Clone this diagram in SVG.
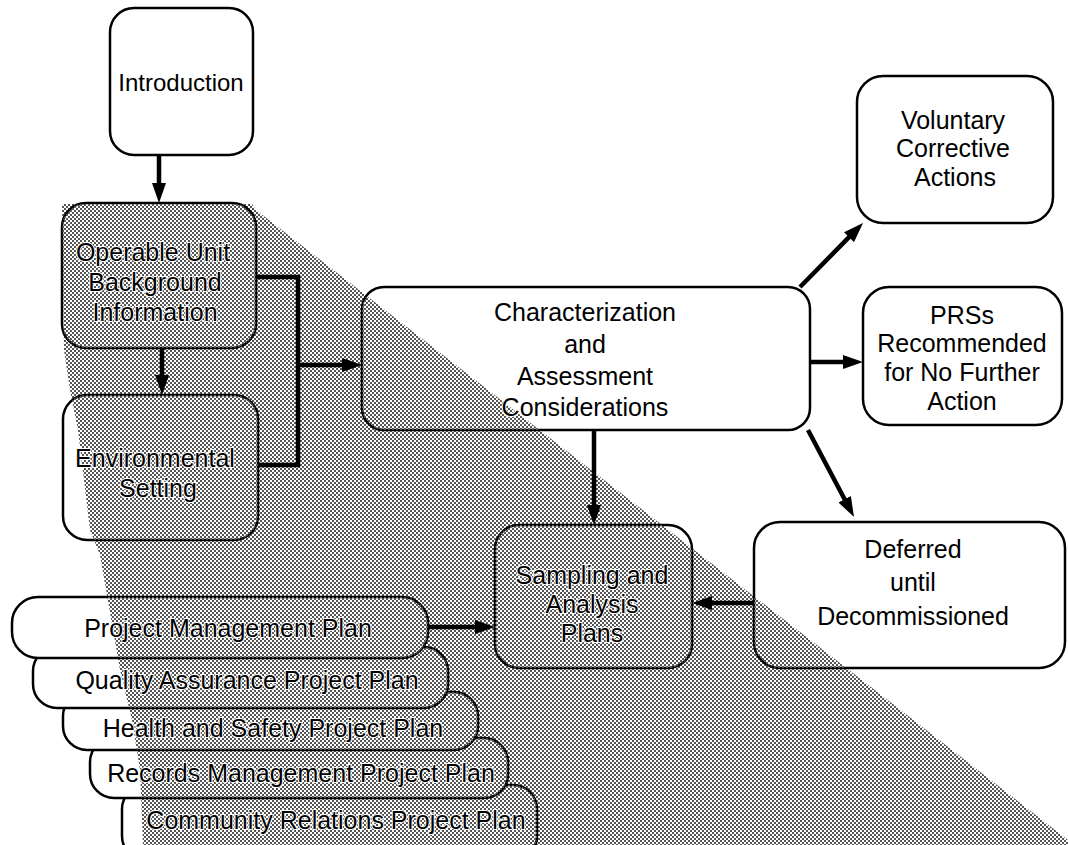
<svg xmlns="http://www.w3.org/2000/svg" width="1068" height="845" viewBox="0 0 1068 845">
  <style>
    .box { fill: #fff; stroke: #000; stroke-width: 2.5; }
    .dots { fill: url(#dither); stroke: none; }
    .lbl { font-family: "Liberation Sans", Arial, Helvetica, sans-serif; font-size: 25px; fill: #000; text-anchor: middle; stroke: #fff; stroke-width: 2; paint-order: stroke; }
    .wire { fill: none; stroke: #000; stroke-width: 4.5; }
  </style>
  <defs>
    <!-- halftone dot screen used for the shaded wedge -->
    <pattern id="dither" patternUnits="userSpaceOnUse" width="4" height="4">
      <rect x="0" y="0" width="2" height="2" fill="#555"/>
      <rect x="2" y="2" width="2" height="2" fill="#555"/>
    </pattern>
    <clipPath id="wedgeClip">
      <polygon points="62,204 252,204 256,210 1068,840 1068,845 143,845 140,770 132,720 120,670 100,555 90,530 78,430 70,390 64,350"/>
    </clipPath>
    <marker id="head" viewBox="0 0 20 14" refX="5" refY="7" markerUnits="userSpaceOnUse" markerWidth="20" markerHeight="14" orient="auto">
      <path d="M0,0 L20,7 L0,14 Z" fill="#000"/>
    </marker>
  </defs>

  <rect x="0" y="0" width="1068" height="845" fill="#fff"/>

  <!-- shaded wedge behind the lower-left part of the chart -->
  <g id="wedge">
    <polygon class="dots" points="62,204 252,204 256,210 1068,840 1068,845 143,845 140,770 132,720 120,670 100,555 90,530 78,430 70,390 64,350"/>
  </g>

  <!-- stacked plan documents, bottom of stack first -->
  <g id="community-relations-plan">
    <rect class="box" x="122" y="785" width="415" height="75" rx="24"/>
    <rect class="dots" x="122" y="785" width="415" height="75" rx="24" clip-path="url(#wedgeClip)"/>
    <text class="lbl" x="336" y="829">Community Relations Project Plan</text>
  </g>
  <g id="records-management-plan">
    <rect class="box" x="90" y="738" width="418" height="60" rx="24"/>
    <rect class="dots" x="90" y="738" width="418" height="60" rx="24" clip-path="url(#wedgeClip)"/>
    <text class="lbl" x="301" y="782">Records Management Project Plan</text>
  </g>
  <g id="health-safety-plan">
    <rect class="box" x="63" y="692" width="415" height="58" rx="24"/>
    <rect class="dots" x="63" y="692" width="415" height="58" rx="24" clip-path="url(#wedgeClip)"/>
    <text class="lbl" x="273" y="737">Health and Safety Project Plan</text>
  </g>
  <g id="quality-assurance-plan">
    <rect class="box" x="33" y="647" width="415" height="61" rx="24"/>
    <rect class="dots" x="33" y="647" width="415" height="61" rx="24" clip-path="url(#wedgeClip)"/>
    <text class="lbl" x="247" y="689">Quality Assurance Project Plan</text>
  </g>
  <g id="project-management-plan">
    <rect class="box" x="12" y="597" width="416" height="61" rx="26"/>
    <rect class="dots" x="12" y="597" width="416" height="61" rx="26" clip-path="url(#wedgeClip)"/>
    <text class="lbl" x="228" y="637">Project Management Plan</text>
  </g>

  <g id="introduction">
    <rect class="box" x="110" y="8" width="143" height="147" rx="24"/>
    <text class="lbl" x="181" y="91" style="font-size:24px">Introduction</text>
  </g>

  <g id="operable-unit-background">
    <rect class="box" x="62" y="203" width="194" height="145" rx="24"/>
    <rect class="dots" x="62" y="203" width="194" height="145" rx="24" clip-path="url(#wedgeClip)"/>
    <text class="lbl" x="153" y="261">Operable Unit</text>
    <text class="lbl" x="155" y="291">Background</text>
    <text class="lbl" x="155" y="321">Information</text>
  </g>

  <g id="environmental-setting">
    <rect class="box" x="63" y="395" width="195" height="145" rx="24"/>
    <rect class="dots" x="63" y="395" width="195" height="145" rx="24" clip-path="url(#wedgeClip)"/>
    <text class="lbl" x="155" y="467">Environmental</text>
    <text class="lbl" x="158" y="497">Setting</text>
  </g>

  <g id="characterization-assessment">
    <rect class="box" x="362" y="287" width="448" height="143" rx="22"/>
    <rect class="dots" x="362" y="287" width="448" height="143" rx="22" clip-path="url(#wedgeClip)"/>
    <text class="lbl" x="585" y="321">Characterization</text>
    <text class="lbl" x="585" y="353">and</text>
    <text class="lbl" x="585" y="385">Assessment</text>
    <text class="lbl" x="585" y="416">Considerations</text>
  </g>

  <g id="sampling-analysis-plans">
    <rect class="box" x="495" y="525" width="197" height="143" rx="24"/>
    <rect class="dots" x="495" y="525" width="197" height="143" rx="24" clip-path="url(#wedgeClip)"/>
    <text class="lbl" x="592" y="584">Sampling and</text>
    <text class="lbl" x="592" y="613">Analysis</text>
    <text class="lbl" x="592" y="642">Plans</text>
  </g>

  <g id="voluntary-corrective-actions">
    <rect class="box" x="857" y="76" width="196" height="147" rx="26"/>
    <text class="lbl" x="953" y="129">Voluntary</text>
    <text class="lbl" x="953" y="157">Corrective</text>
    <text class="lbl" x="955" y="186">Actions</text>
  </g>

  <g id="prss-no-further-action">
    <rect class="box" x="863" y="287" width="199" height="138" rx="26"/>
    <text class="lbl" x="962" y="324">PRSs</text>
    <text class="lbl" x="962" y="352">Recommended</text>
    <text class="lbl" x="962" y="381">for No Further</text>
    <text class="lbl" x="962" y="410">Action</text>
  </g>

  <g id="deferred-until-decommissioned">
    <rect class="box" x="754" y="522" width="311" height="146" rx="26"/>
    <rect class="dots" x="754" y="522" width="311" height="146" rx="26" clip-path="url(#wedgeClip)"/>
    <text class="lbl" x="913" y="558">Deferred</text>
    <text class="lbl" x="913" y="591">until</text>
    <text class="lbl" x="913" y="625">Decommissioned</text>
  </g>

  <!-- connectors -->
  <g id="connectors">
    <line class="wire" x1="159" y1="155" x2="159" y2="188" marker-end="url(#head)"/>
    <line class="wire" x1="162" y1="348" x2="162" y2="380" marker-end="url(#head)"/>
    <polyline class="wire" points="256,277 298,277 298,465 258,465"/>
    <line class="wire" x1="298" y1="365" x2="347" y2="365" marker-end="url(#head)"/>
    <line class="wire" x1="800" y1="287" x2="852.5" y2="233.7" marker-end="url(#head)"/>
    <line class="wire" x1="810" y1="362" x2="848" y2="362" marker-end="url(#head)"/>
    <line class="wire" x1="808" y1="430" x2="847" y2="503.7" marker-end="url(#head)"/>
    <line class="wire" x1="594" y1="430" x2="594" y2="510" marker-end="url(#head)"/>
    <line class="wire" x1="754" y1="603" x2="707" y2="603" marker-end="url(#head)"/>
    <line class="wire" x1="428" y1="627" x2="480" y2="627" marker-end="url(#head)"/>
  </g>
</svg>
